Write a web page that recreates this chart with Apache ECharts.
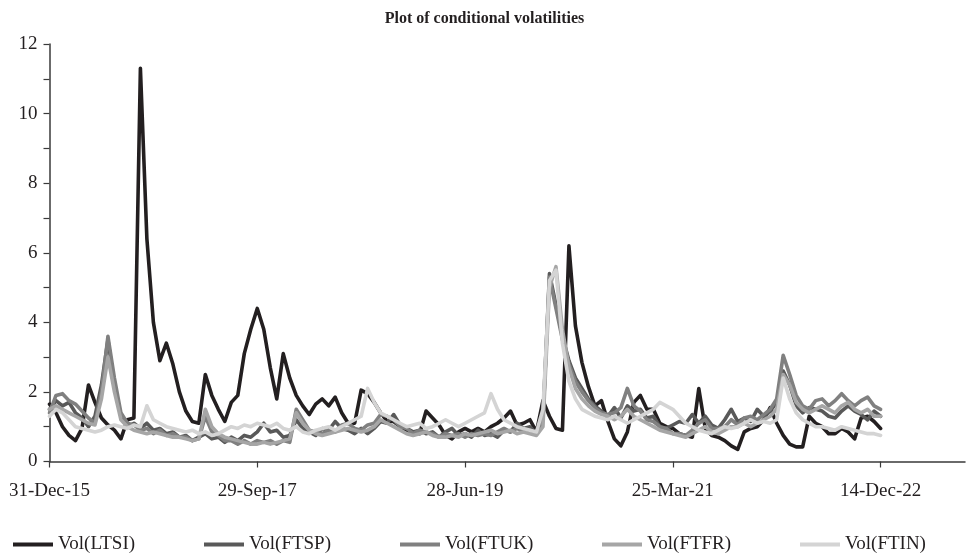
<!DOCTYPE html>
<html>
<head>
<meta charset="utf-8">
<script src="https://cdn.jsdelivr.net/npm/echarts@6/dist/echarts.min.js"></script>
<style>
html,body{margin:0;padding:0;background:#fff;}
#chart{width:969px;height:554px;}
</style>
</head>
<body>
<div id="chart"></div>
<script>
// Tick labels shown on the date axis (one every 32 samples)
const tickLabels = ['31-Dec-15', '29-Sep-17', '28-Jun-19', '25-Mar-21', '14-Dec-22'];
const samplesPerTick = 32;
const totalSlots = 142; // axis runs a little past the last data point

const seriesNames = ['Vol(LTSI)', 'Vol(FTSP)', 'Vol(FTUK)', 'Vol(FTFR)', 'Vol(FTIN)'];

const volLTSI = [
  1.65, 1.4, 1.0, 0.75, 0.6, 0.95, 2.2, 1.7, 1.25, 1.05,
  0.9, 0.65, 1.2, 1.25, 11.3, 6.4, 4.0, 2.9, 3.4, 2.8,
  2.0, 1.45, 1.15, 1.1, 2.5, 1.9, 1.5, 1.15, 1.7, 1.9,
  3.1, 3.8, 4.4, 3.8, 2.7, 1.8, 3.1, 2.4, 1.9, 1.6,
  1.35, 1.65, 1.8, 1.6, 1.85, 1.4, 1.1, 1.1, 2.05, 1.95,
  1.7, 1.4, 1.15, 1.15, 1.0, 0.9, 0.85, 0.8, 1.45, 1.25,
  1.05, 0.75, 0.65, 0.85, 0.95, 0.85, 0.95, 0.85, 1.0, 1.1,
  1.25, 1.45, 1.05, 1.1, 1.2, 0.85, 1.75, 1.3, 0.95, 0.9,
  6.2, 3.9, 2.85, 2.15, 1.6, 1.75, 1.15, 0.65, 0.45, 0.85,
  1.7, 1.9, 1.5, 1.5, 1.1, 1.0, 0.95, 0.8, 0.75, 0.7,
  2.1, 0.95, 0.75, 0.7, 0.6, 0.45, 0.35, 0.85, 0.95, 1.0,
  1.2, 1.55, 1.1, 0.75, 0.5, 0.42, 0.42, 1.3, 1.1, 1.0,
  0.8, 0.8, 0.95, 0.85, 0.65, 1.25, 1.3, 1.15, 0.95
];
const volFTSP = [
  1.5, 1.75, 1.6, 1.7, 1.4, 1.25, 1.0, 1.3, 2.2, 3.5,
  2.2, 1.3, 1.0, 1.1, 0.95, 1.1, 0.9, 0.95, 0.8, 0.85,
  0.7, 0.75, 0.6, 0.7, 0.8, 0.65, 0.7, 0.55, 0.7, 0.6,
  0.75, 0.7, 0.85, 1.1, 0.85, 0.9, 0.7, 0.75, 1.2, 0.95,
  0.85, 0.75, 0.95, 0.9, 1.15, 0.95, 0.9, 0.8, 0.95, 0.8,
  0.95, 1.15, 1.1, 1.35, 1.05, 0.95, 0.85, 0.9, 0.8, 0.85,
  0.7, 0.85, 0.95, 0.75, 0.8, 0.7, 0.9, 0.75, 0.8, 0.7,
  0.9, 0.85, 1.1, 0.95, 1.0, 0.8, 1.2, 5.4, 4.5, 3.6,
  2.9, 2.4, 2.1, 1.8, 1.6, 1.45, 1.3, 1.55, 1.25, 1.6,
  1.45, 1.5, 1.25, 1.3, 1.0, 0.95, 1.05, 1.15, 1.1, 1.35,
  1.1, 1.3, 1.05, 0.95, 1.2, 1.5, 1.15, 1.25, 1.15, 1.5,
  1.3, 1.45, 1.7, 2.6, 2.2, 1.6, 1.4, 1.55, 1.5, 1.45,
  1.3, 1.25, 1.45, 1.6, 1.45, 1.35, 1.2, 1.45, 1.3
];
const volFTUK = [
  1.4, 1.9, 1.95, 1.75, 1.65, 1.45, 1.25, 1.1, 2.0, 3.6,
  2.4, 1.4, 1.1, 1.05, 0.9, 0.95, 0.8, 0.9, 0.75, 0.8,
  0.7, 0.7, 0.6, 0.65, 1.3, 0.85, 0.75, 0.6, 0.6, 0.5,
  0.6, 0.5, 0.6, 0.55, 0.6, 0.5, 0.6, 0.55, 1.5, 1.2,
  0.9, 0.85, 0.8, 0.9, 0.85, 1.05, 1.1, 0.95, 0.9, 1.05,
  1.1, 1.35, 1.3, 1.2, 1.0, 0.95, 0.8, 0.9, 0.85, 0.8,
  0.7, 0.8, 0.75, 0.8, 0.7, 0.8, 0.75, 0.8, 0.75, 0.85,
  0.95, 0.85, 0.95, 0.85, 0.9, 0.8, 1.3, 5.3, 4.4, 3.5,
  2.8, 2.3, 2.0, 1.75, 1.55, 1.4, 1.35, 1.4, 1.55, 2.1,
  1.6, 1.45, 1.2, 1.15, 1.0, 0.95, 0.8, 0.8, 0.75, 0.9,
  1.1, 1.2, 0.95, 0.95, 1.0, 1.2, 1.05, 1.25, 1.3, 1.2,
  1.35, 1.5, 1.8, 3.05, 2.5, 1.9, 1.6, 1.5, 1.75, 1.8,
  1.6, 1.75, 1.95, 1.75, 1.6, 1.75, 1.85, 1.6, 1.5
];
const volFTFR = [
  1.5, 1.6, 1.5, 1.4, 1.3, 1.2, 1.1, 1.05, 1.8, 3.0,
  2.0, 1.2, 1.0, 0.9, 0.85, 0.8, 0.85, 0.8, 0.75, 0.7,
  0.7, 0.65, 0.6, 0.65, 1.5, 1.0, 0.8, 0.7, 0.65, 0.6,
  0.55, 0.5, 0.5, 0.55, 0.5, 0.55, 0.6, 0.65, 1.4, 1.1,
  0.9, 0.8, 0.75, 0.8, 0.85, 0.9, 0.95, 0.9, 0.85, 0.9,
  1.0, 1.2, 1.1, 1.0, 0.9, 0.8, 0.75, 0.8, 0.85, 0.75,
  0.7, 0.7, 0.75, 0.7, 0.8, 0.75, 0.8, 0.85, 0.9, 0.8,
  0.85, 0.9, 0.8, 0.85, 0.8, 0.75, 1.0, 5.0, 5.6, 3.8,
  2.7, 2.1, 1.8, 1.6, 1.45, 1.35, 1.3, 1.2, 1.3, 1.5,
  1.3, 1.2, 1.1, 1.0, 0.9, 0.85, 0.8, 0.75, 0.7, 0.8,
  0.9, 1.0, 0.85, 0.8, 0.9, 1.0, 1.0, 1.1, 1.0, 1.1,
  1.2, 1.3, 1.5, 2.5, 2.2, 1.7, 1.5, 1.4, 1.5, 1.6,
  1.5, 1.4, 1.6, 1.7, 1.5, 1.4, 1.5, 1.3, 1.3
];
const volFTIN = [
  1.3, 1.5, 1.4, 1.2, 1.0, 0.95, 0.9, 0.85, 0.9, 1.0,
  1.05, 1.0, 0.95, 1.05, 1.0, 1.6, 1.2, 1.1, 1.0, 0.95,
  0.9, 0.85, 0.9, 0.8, 0.85, 0.75, 0.8, 0.9, 1.0, 0.95,
  1.05, 1.0, 1.1, 1.05, 1.0, 1.1, 0.95, 0.9, 1.0, 0.85,
  0.8, 0.9, 0.95, 1.0, 0.9, 1.0, 1.1, 1.2, 1.3, 2.1,
  1.7, 1.4, 1.3, 1.2, 1.1, 1.0, 1.05, 1.1, 0.95, 1.0,
  1.1, 1.2, 1.1, 1.0, 1.1, 1.2, 1.3, 1.4, 1.95, 1.5,
  1.2, 1.1, 1.0, 0.95, 0.9, 0.85, 1.5, 5.2, 5.5, 3.4,
  2.3, 1.8, 1.5, 1.4, 1.3, 1.25, 1.2, 1.3, 1.2, 1.1,
  1.2, 1.3, 1.4, 1.5, 1.7, 1.6, 1.5, 1.3, 1.1, 1.0,
  0.9, 0.85, 0.8, 0.9, 1.0, 0.95, 1.0, 1.1, 1.2, 1.1,
  1.15, 1.1, 1.2, 2.4, 1.8, 1.4, 1.2, 1.1, 1.0, 1.0,
  0.95, 0.9, 1.0, 0.95, 0.9, 0.85, 0.8, 0.8, 0.75
];

const seriesValues = [volLTSI, volFTSP, volFTUK, volFTFR, volFTIN];
const seriesColors = ['#231f20', '#595959', '#808080', '#a6a6a6', '#d4d4d4'];
const legendLefts = [8, 199, 395, 597, 795];

// category slots; only every 32nd carries a date label
const categories = [];
for (let i = 0; i < totalSlots; i++) {
  categories.push(i % samplesPerTick === 0 && tickLabels[i / samplesPerTick] ? tickLabels[i / samplesPerTick] : '');
}
const isTickSlot = (idx) => idx % samplesPerTick === 0 && idx / samplesPerTick < tickLabels.length;

const FONT = "'Liberation Serif', 'DejaVu Serif', serif";

const chart = echarts.init(document.getElementById('chart'), null, {renderer: 'canvas'});
chart.setOption({
  backgroundColor: '#ffffff',
  animation: false,
  title: {
    text: 'Plot of conditional volatilities',
    left: 'center',
    top: 6,
    textStyle: {fontFamily: FONT, fontSize: 16, fontWeight: 'bold', color: '#231f20'}
  },
  legend: seriesNames.map((name, k) => ({
    left: legendLefts[k],
    top: 530,
    icon: 'rect',
    itemWidth: 40,
    itemHeight: 4,
    itemGap: 0,
    textStyle: {fontFamily: FONT, fontSize: 19, color: '#231f20'},
    data: [name]
  })),
  grid: {left: 49.5, right: 4, top: 44, bottom: 92.5, containLabel: false},
  xAxis: {
    type: 'category',
    data: categories,
    boundaryGap: false,
    axisLine: {lineStyle: {color: '#3a3a3a', width: 1.5}},
    axisTick: {show: true, interval: isTickSlot, length: 6, lineStyle: {color: '#3a3a3a', width: 1.2}},
    axisLabel: {interval: isTickSlot, margin: 20, fontFamily: FONT, fontSize: 19, color: '#231f20'},
    splitLine: {show: false}
  },
  yAxis: {
    type: 'value',
    min: 0,
    max: 12,
    interval: 2,
    axisLine: {show: true, lineStyle: {color: '#3a3a3a', width: 1.5}},
    axisTick: {show: true, length: 6, lineStyle: {color: '#3a3a3a', width: 1.2}},
    minorTick: {show: true, splitNumber: 2, length: 6, lineStyle: {color: '#3a3a3a', width: 1.2}},
    axisLabel: {margin: 12, fontFamily: FONT, fontSize: 19, color: '#231f20'},
    splitLine: {show: false}
  },
  series: seriesNames.map((name, k) => ({
    name: name,
    type: 'line',
    data: seriesValues[k],
    symbol: 'none',
    smooth: false,
    color: seriesColors[k],
    lineStyle: {color: seriesColors[k], width: 3.6, join: 'round', cap: 'round'}
  }))
});
</script>
</body>
</html>
